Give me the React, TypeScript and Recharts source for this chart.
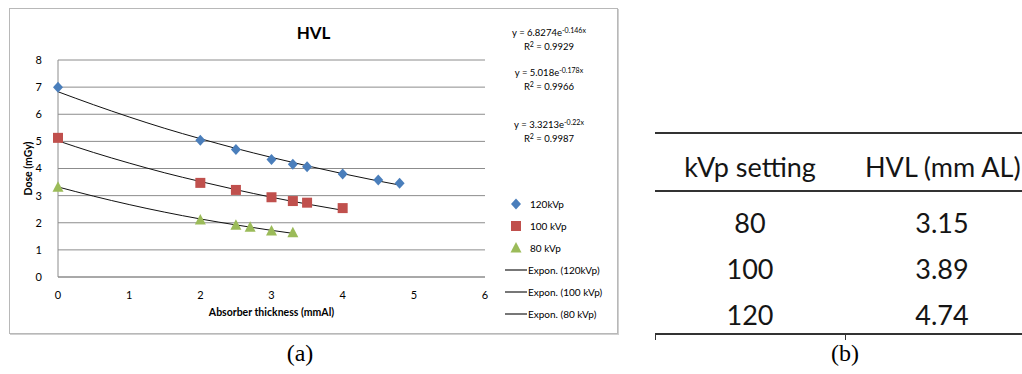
import React from "react";
import {
  ComposedChart,
  Scatter,
  Line,
  XAxis,
  YAxis,
  CartesianGrid,
  Label,
} from "recharts";

const thick120 = [0, 2, 2.5, 3, 3.3, 3.5, 4, 4.5, 4.8];
const dose120 = [7.0, 5.04, 4.7, 4.33, 4.16, 4.06, 3.8, 3.58, 3.46];
const thick100 = [0, 2, 2.5, 3, 3.3, 3.5, 4];
const dose100 = [5.13, 3.47, 3.21, 2.94, 2.8, 2.74, 2.54];
const thick80 = [0, 2, 2.5, 2.7, 3, 3.3];
const dose80 = [3.31, 2.1, 1.91, 1.83, 1.7, 1.63];

// exponential trendlines
const trendX120 = [0, 0.5, 1, 1.5, 2, 2.5, 3, 3.5, 4, 4.5, 4.8];
const trendY120 = [6.83, 6.35, 5.9, 5.48, 5.1, 4.74, 4.41, 4.1, 3.81, 3.54, 3.39];
const trendX100 = [0, 0.5, 1, 1.5, 2, 2.5, 3, 3.5, 4];
const trendY100 = [5.02, 4.59, 4.2, 3.84, 3.52, 3.22, 2.94, 2.69, 2.46];
const trendX80 = [0, 0.5, 1, 1.5, 2, 2.5, 3, 3.3];
const trendY80 = [3.32, 2.98, 2.67, 2.39, 2.14, 1.92, 1.72, 1.61];

const xTicks = [0, 1, 2, 3, 4, 5, 6];
const yTicks = [0, 1, 2, 3, 4, 5, 6, 7, 8];

const equations = [
  { a: "6.8274", b: "-0.146x", r2: "0.9929" },
  { a: "5.018", b: "-0.178x", r2: "0.9966" },
  { a: "3.3213", b: "-0.22x", r2: "0.9987" },
];
const seriesNames = ["120kVp", "100 kVp", "80 kVp"];
const trendNames = ["Expon. (120kVp)", "Expon. (100 kVp)", "Expon. (80 kVp)"];

const kvpSettings = ["80", "100", "120"];
const hvlValues = ["3.15", "3.89", "4.74"];

const zip = (xs: number[], ys: number[]) => xs.map((x, i) => ({ x, y: ys[i] }));

const BLUE = "#4a7ebb";
const RED = "#c0504d";
const GREEN = "#9bbb59";
const FONT = "Lato, 'Open Sans', sans-serif";

const Diamond = (p: any) => (
  <path d={`M${p.cx},${p.cy - 5.5}L${p.cx + 5},${p.cy}L${p.cx},${p.cy + 5.5}L${p.cx - 5},${p.cy}Z`} fill={BLUE} />
);
const Square = (p: any) => <rect x={p.cx - 5} y={p.cy - 5} width={10} height={10} fill={RED} />;
const Triangle = (p: any) => (
  <path d={`M${p.cx},${p.cy - 6}L${p.cx + 5.5},${p.cy + 4.5}L${p.cx - 5.5},${p.cy + 4.5}Z`} fill={GREEN} />
);

const legendMarks = [
  <svg width={12} height={12}><Diamond cx={6} cy={6} /></svg>,
  <svg width={12} height={12}><Square cx={6} cy={6} /></svg>,
  <svg width={12} height={12}><Triangle cx={6} cy={6} /></svg>,
];

export default function App() {
  const eqTops = [17, 57, 109];
  const tableText = { position: "absolute" as const, fontSize: 27, color: "#151515", whiteSpace: "nowrap" as const };
  return (
    <div style={{ position: "absolute", left: 0, top: 0, width: 1022, height: 374, background: "#fff", fontFamily: FONT, overflow: "hidden" }}>
      {/* chart frame */}
      <div style={{ position: "absolute", left: 9, top: 8, width: 607, height: 324, border: "1px solid #b8b8b8", boxShadow: "1px 1px 0 #d0d0d0" }}>
        <div style={{ position: "absolute", left: 0, width: 607, top: 13, textAlign: "center", fontWeight: 700, fontSize: 17, color: "#000" }}>HVL</div>
        <ComposedChart width={607} height={324} margin={{ top: 51, right: 132, bottom: 25, left: 18 }} style={{ fontFamily: FONT }}>
          <CartesianGrid vertical={false} stroke="#8c8c8c" />
          <XAxis
            dataKey="x"
            type="number"
            domain={[0, 6]}
            ticks={xTicks}
            tickLine={false}
            stroke="#8c8c8c"
            tick={{ fontSize: 11, fill: "#000" }}
            tickMargin={8}
            height={31}
            allowDuplicatedCategory={false}
          >
            <Label value="Absorber thickness (mmAl)" position="insideBottom" offset={-8} style={{ fontSize: 10.5, fontWeight: 700, fill: "#000" }} />
          </XAxis>
          <YAxis
            type="number"
            domain={[0, 8]}
            ticks={yTicks}
            tickLine={false}
            stroke="#8c8c8c"
            tick={{ fontSize: 11, fill: "#000" }}
            tickMargin={10}
            width={30}
          >
            <Label value="Dose (mGy)" angle={-90} position="insideLeft" offset={0} style={{ fontSize: 10.5, fontWeight: 700, fill: "#000", textAnchor: "middle" }} />
          </YAxis>
          <Line data={zip(trendX120, trendY120)} dataKey="y" type="monotone" dot={false} stroke="#111" strokeWidth={1} isAnimationActive={false} />
          <Line data={zip(trendX100, trendY100)} dataKey="y" type="monotone" dot={false} stroke="#111" strokeWidth={1} isAnimationActive={false} />
          <Line data={zip(trendX80, trendY80)} dataKey="y" type="monotone" dot={false} stroke="#111" strokeWidth={1} isAnimationActive={false} />
          <Scatter data={zip(thick120, dose120)} dataKey="y" shape={Diamond} isAnimationActive={false} />
          <Scatter data={zip(thick100, dose100)} dataKey="y" shape={Square} isAnimationActive={false} />
          <Scatter data={zip(thick80, dose80)} dataKey="y" shape={Triangle} isAnimationActive={false} />
        </ComposedChart>
        {equations.map((e, i) => (
          <div key={i} style={{ position: "absolute", left: 479, width: 120, top: eqTops[i], textAlign: "center", fontSize: 9.5, lineHeight: "14px", color: "#000" }}>
            <div>
              y = {e.a}e<sup style={{ fontSize: 7, verticalAlign: "3px", lineHeight: 0 }}>{e.b}</sup>
            </div>
            <div>
              R<sup style={{ fontSize: 7, verticalAlign: "3px", lineHeight: 0 }}>2</sup> = {e.r2}
            </div>
          </div>
        ))}
        <div style={{ position: "absolute", left: 497, top: 184, fontSize: 10, color: "#000" }}>
          {seriesNames.map((n, i) => (
            <div key={n} style={{ display: "flex", alignItems: "center", height: 22 }}>
              <div style={{ width: 18, display: "flex", justifyContent: "center" }}>{legendMarks[i]}</div>
              <span style={{ marginLeft: 5 }}>{n}</span>
            </div>
          ))}
          {trendNames.map((n) => (
            <div key={n} style={{ display: "flex", alignItems: "center", height: 22 }}>
              <div style={{ width: 22, height: 2, background: "#777", marginLeft: -2 }} />
              <span style={{ marginLeft: 1 }}>{n}</span>
            </div>
          ))}
        </div>
      </div>
      <div style={{ position: "absolute", left: 270, top: 340, width: 60, textAlign: "center", fontFamily: "'Liberation Serif', serif", fontSize: 24 }}>(a)</div>

      {/* table (b) */}
      <div style={{ position: "absolute", left: 655, top: 132, width: 380, height: 2, background: "#333" }} />
      <div style={{ position: "absolute", left: 655, top: 190, width: 380, height: 2, background: "#333" }} />
      <div style={{ position: "absolute", left: 655, top: 333, width: 380, height: 2, background: "#333" }} />
      <div style={{ position: "absolute", left: 655, top: 333, width: 1, height: 7, background: "#333" }} />
      <div style={{ position: "absolute", left: 845, top: 333, width: 1, height: 7, background: "#333" }} />
      <div style={{ ...tableText, left: 670, top: 150, width: 160, textAlign: "center" }}>kVp setting</div>
      <div style={{ ...tableText, left: 865, top: 150 }}>HVL (mm AL)</div>
      {kvpSettings.map((k, i) => (
        <React.Fragment key={k}>
          <div style={{ ...tableText, left: 700, top: 206 + i * 46, width: 100, textAlign: "center" }}>{k}</div>
          <div style={{ ...tableText, left: 892, top: 206 + i * 46, width: 100, textAlign: "center" }}>{hvlValues[i]}</div>
        </React.Fragment>
      ))}
      <div style={{ position: "absolute", left: 815, top: 340, width: 60, textAlign: "center", fontFamily: "'Liberation Serif', serif", fontSize: 24 }}>(b)</div>
    </div>
  );
}
